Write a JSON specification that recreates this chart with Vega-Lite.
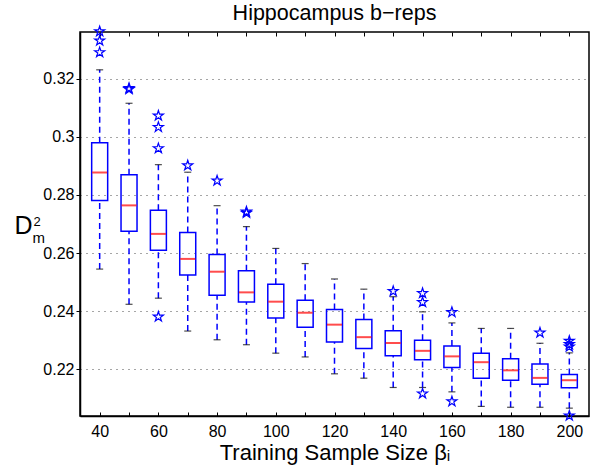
{
  "$schema": "https://vega.github.io/schema/vega-lite/v6.json",
  "width": 509,
  "height": 384,
  "autosize": {"type": "none"},
  "padding": {"left": 80, "top": 32, "right": 3, "bottom": 56},
  "background": "white",
  "title": {"text": "Hippocampus b−reps", "fontSize": 21.5, "fontWeight": "normal", "color": "black", "baseline": "alphabetic", "offset": 14, "dy": 32, "anchor": "middle"},
  "config": {
    "font": "Liberation Sans",
    "view": {"stroke": "black", "strokeWidth": 1.5},
    "axis": {"labelColor": "black", "tickColor": "black", "domainColor": "black", "titleColor": "black", "titleFontWeight": "normal", "labelFont": "Liberation Sans", "titleFont": "Liberation Sans"}
  },
  "datasets": {
    "boxes": [
      {"size": 40, "lo": 0.2545, "q1": 0.2781, "med": 0.2877, "q3": 0.2979, "hi": 0.3230},
      {"size": 50, "lo": 0.2424, "q1": 0.2675, "med": 0.2764, "q3": 0.2869, "hi": 0.3115},
      {"size": 60, "lo": 0.2445, "q1": 0.2610, "med": 0.2666, "q3": 0.2747, "hi": 0.2904},
      {"size": 70, "lo": 0.2332, "q1": 0.2525, "med": 0.2580, "q3": 0.2671, "hi": 0.2878},
      {"size": 80, "lo": 0.2302, "q1": 0.2455, "med": 0.2536, "q3": 0.2595, "hi": 0.2763},
      {"size": 90, "lo": 0.2285, "q1": 0.2432, "med": 0.2465, "q3": 0.2539, "hi": 0.2691},
      {"size": 100, "lo": 0.2256, "q1": 0.2377, "med": 0.2433, "q3": 0.2493, "hi": 0.2616},
      {"size": 110, "lo": 0.2243, "q1": 0.2345, "med": 0.2395, "q3": 0.2438, "hi": 0.2564},
      {"size": 120, "lo": 0.2185, "q1": 0.2294, "med": 0.2354, "q3": 0.2406, "hi": 0.2511},
      {"size": 130, "lo": 0.2170, "q1": 0.2272, "med": 0.2311, "q3": 0.2372, "hi": 0.2476},
      {"size": 140, "lo": 0.2138, "q1": 0.2247, "med": 0.2291, "q3": 0.2333, "hi": 0.2450},
      {"size": 150, "lo": 0.2138, "q1": 0.2233, "med": 0.2264, "q3": 0.2300, "hi": 0.2398},
      {"size": 160, "lo": 0.2123, "q1": 0.2207, "med": 0.2245, "q3": 0.2281, "hi": 0.2360},
      {"size": 170, "lo": 0.2073, "q1": 0.2170, "med": 0.2225, "q3": 0.2256, "hi": 0.2341},
      {"size": 180, "lo": 0.2070, "q1": 0.2163, "med": 0.2197, "q3": 0.2237, "hi": 0.2341},
      {"size": 190, "lo": 0.2070, "q1": 0.2149, "med": 0.2171, "q3": 0.2219, "hi": 0.2290},
      {"size": 200, "lo": 0.2067, "q1": 0.2137, "med": 0.2163, "q3": 0.2183, "hi": 0.2257}
    ],
    "outliers": [
      {"size": 40, "value": 0.3362},
      {"size": 40, "value": 0.3330},
      {"size": 40, "value": 0.3290},
      {"size": 50, "value": 0.3167},
      {"size": 50, "value": 0.3163},
      {"size": 60, "value": 0.3072},
      {"size": 60, "value": 0.3033},
      {"size": 60, "value": 0.2960},
      {"size": 60, "value": 0.2381},
      {"size": 70, "value": 0.2901},
      {"size": 80, "value": 0.2849},
      {"size": 90, "value": 0.2742},
      {"size": 90, "value": 0.2738},
      {"size": 140, "value": 0.2469},
      {"size": 150, "value": 0.2462},
      {"size": 150, "value": 0.2431},
      {"size": 150, "value": 0.2117},
      {"size": 160, "value": 0.2397},
      {"size": 160, "value": 0.2090},
      {"size": 190, "value": 0.2326},
      {"size": 200, "value": 0.2298},
      {"size": 200, "value": 0.2287},
      {"size": 200, "value": 0.2278},
      {"size": 200, "value": 0.2041}
    ]
  },
  "resolve": {"axis": {"x": "independent", "y": "independent"}},
  "layer": [
    {
      "data": {"name": "boxes"},
      "mark": {"type": "rule", "color": "#0000ff", "strokeWidth": 1.5, "strokeDash": [6, 4]},
      "encoding": {
        "x": {"field": "size", "type": "quantitative", "scale": {"domain": [35, 205], "nice": false, "zero": false},
          "axis": {"orient": "bottom", "values": [40, 50, 60, 70, 80, 90, 100, 110, 120, 130, 140, 150, 160, 170, 180, 190, 200],
            "labelExpr": "datum.value % 20 == 0 ? datum.label : ''", "labelFlush": false, "tickSize": -4, "tickWidth": 1, "labelPadding": 11, "labelFontSize": 16,
            "domainWidth": 1.5, "grid": false, "title": "Training Sample Size βᵢ", "titleFontSize": 22, "titleY": 43, "titleBaseline": "alphabetic"}},
        "y": {"field": "lo", "type": "quantitative", "scale": {"domain": [0.204, 0.336], "nice": false, "zero": false},
          "axis": {"orient": "left", "values": [0.22, 0.24, 0.26, 0.28, 0.3, 0.32], "format": "~g", "tickSize": 4, "labelPadding": 2, "labelFontSize": 16,
            "domainWidth": 1.5, "grid": true, "gridDash": [1, 5], "gridColor": "#000000", "gridOpacity": 0.7, "gridWidth": 1,
            "title": "D", "titleAngle": 0, "titleFontSize": 25, "titleX": -66, "titleY": 201, "titleAlign": "left", "titleBaseline": "alphabetic"}},
        "y2": {"field": "q1"}
      }
    },
    {
      "data": {"name": "boxes"},
      "mark": {"type": "rule", "color": "#0000ff", "strokeWidth": 1.5, "strokeDash": [6, 4]},
      "encoding": {
        "x": {"field": "size", "type": "quantitative", "scale": {"domain": [35, 205], "nice": false, "zero": false},
          "axis": {"orient": "top", "values": [40, 50, 60, 70, 80, 90, 100, 110, 120, 130, 140, 150, 160, 170, 180, 190, 200],
            "labels": false, "tickSize": -4, "tickWidth": 1, "domain": false, "grid": false, "title": null}},
        "y": {"field": "q3", "type": "quantitative", "scale": {"domain": [0.204, 0.336], "nice": false, "zero": false},
          "axis": {"orient": "left", "labels": false, "ticks": false, "domain": false, "grid": false,
            "title": "2", "titleAngle": 0, "titleFontSize": 13, "titleX": -47, "titleY": 193, "titleAlign": "left", "titleBaseline": "alphabetic"}},
        "y2": {"field": "hi"}
      }
    },
    {
      "data": {"name": "boxes"},
      "mark": {"type": "bar", "size": 16, "fill": "transparent", "stroke": "#0000ff", "strokeWidth": 1.5},
      "encoding": {
        "x": {"field": "size", "type": "quantitative", "scale": {"domain": [35, 205], "nice": false, "zero": false}, "axis": null},
        "y": {"field": "q1", "type": "quantitative", "scale": {"domain": [0.204, 0.336], "nice": false, "zero": false},
          "axis": {"orient": "left", "labels": false, "ticks": false, "domain": false, "grid": false,
            "title": "m", "titleAngle": 0, "titleFontSize": 15, "titleX": -48, "titleY": 210, "titleAlign": "left", "titleBaseline": "alphabetic"}},
        "y2": {"field": "q3"}
      }
    },
    {
      "data": {"name": "boxes"},
      "mark": {"type": "tick", "orient": "horizontal", "size": 7, "thickness": 1.2, "color": "#000000"},
      "encoding": {
        "x": {"field": "size", "type": "quantitative", "scale": {"domain": [35, 205], "nice": false, "zero": false}, "axis": null},
        "y": {"field": "lo", "type": "quantitative", "scale": {"domain": [0.204, 0.336], "nice": false, "zero": false}, "axis": null}
      }
    },
    {
      "data": {"name": "boxes"},
      "mark": {"type": "tick", "orient": "horizontal", "size": 7, "thickness": 1.2, "color": "#000000"},
      "encoding": {
        "x": {"field": "size", "type": "quantitative", "scale": {"domain": [35, 205], "nice": false, "zero": false}, "axis": null},
        "y": {"field": "hi", "type": "quantitative", "scale": {"domain": [0.204, 0.336], "nice": false, "zero": false}, "axis": null}
      }
    },
    {
      "data": {"name": "boxes"},
      "mark": {"type": "tick", "orient": "horizontal", "size": 15, "thickness": 2, "color": "#ff0000"},
      "encoding": {
        "x": {"field": "size", "type": "quantitative", "scale": {"domain": [35, 205], "nice": false, "zero": false}, "axis": null},
        "y": {"field": "med", "type": "quantitative", "scale": {"domain": [0.204, 0.336], "nice": false, "zero": false}, "axis": null}
      }
    },
    {
      "data": {"name": "outliers"},
      "mark": {"type": "point", "shape": "M0,-1L0.225,-0.309L0.951,-0.309L0.363,0.118L0.588,0.809L0,0.382L-0.588,0.809L-0.363,0.118L-0.951,-0.309L-0.225,-0.309Z", "size": 110, "filled": false, "stroke": "#0000ff", "strokeWidth": 1.2, "opacity": 1},
      "encoding": {
        "x": {"field": "size", "type": "quantitative", "scale": {"domain": [35, 205], "nice": false, "zero": false}, "axis": null},
        "y": {"field": "value", "type": "quantitative", "scale": {"domain": [0.204, 0.336], "nice": false, "zero": false}, "axis": null}
      }
    }
  ]
}
